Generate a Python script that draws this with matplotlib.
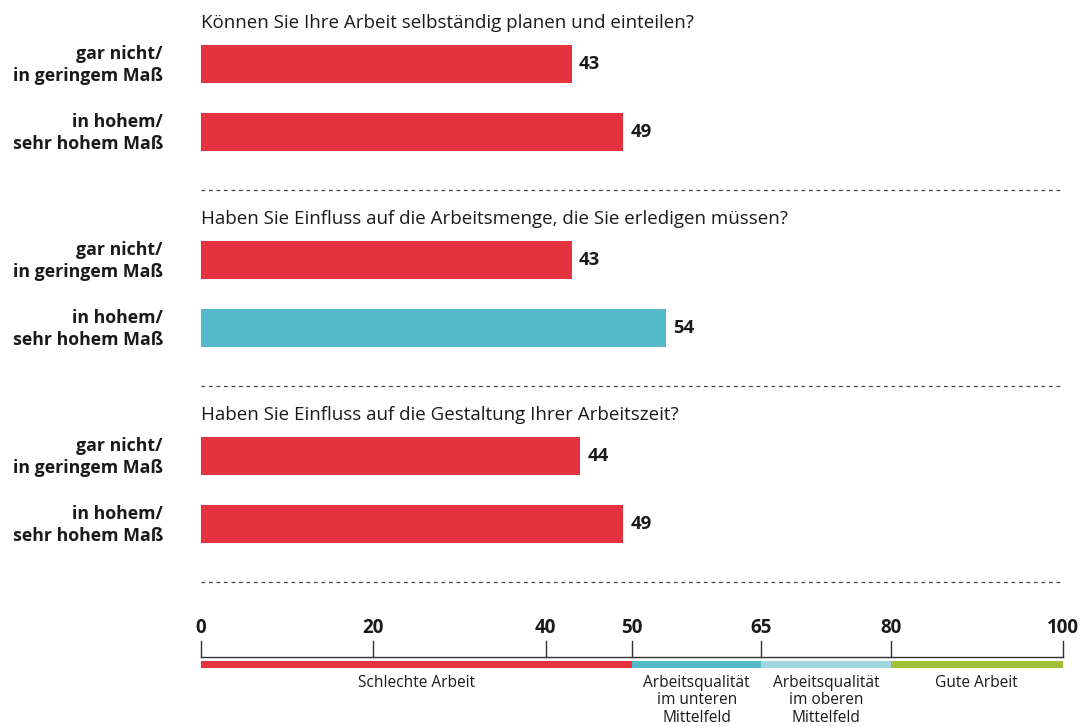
import matplotlib
matplotlib.use("Agg")
import matplotlib.pyplot as plt

# ---- data ----
questions = [
    "Können Sie Ihre Arbeit selbständig planen und einteilen?",
    "Haben Sie Einfluss auf die Arbeitsmenge, die Sie erledigen müssen?",
    "Haben Sie Einfluss auf die Gestaltung Ihrer Arbeitszeit?",
]
row_labels = ["gar nicht/\nin geringem Maß", "in hohem/\nsehr hohem Maß"]
values = [[43, 49], [43, 54], [44, 49]]
tick_values = [0, 20, 40, 50, 65, 80, 100]
band_edges = [0, 50, 65, 80, 100]
band_labels = ["Schlechte Arbeit", "Arbeitsqualität\nim unteren\nMittelfeld",
               "Arbeitsqualität\nim oberen\nMittelfeld", "Gute Arbeit"]

# ---- style ----
RED = "#E5323F"
TEAL = "#52BAC8"
LTEAL = "#A0D6DE"
GREEN = "#A2C037"
band_colors = [RED, TEAL, LTEAL, GREEN]

def bar_color(v):
    for i in range(len(band_edges) - 1):
        if band_edges[i] <= v < band_edges[i + 1]:
            return band_colors[i]
    return band_colors[-1]

plt.rcParams['font.family'] = ['Open Sans', 'DejaVu Sans']

W, H = 1083, 727
fig = plt.figure(figsize=(W / 100, H / 100), dpi=100)
ax = fig.add_axes([0, 0, 1, 1])
px = 8.62  # pixels per unit
x0 = 201
ax.set_xlim(-x0 / px, (W - x0) / px)
ax.set_ylim(H, 0)
ax.axis("off")

group_top = 64
group_step = 196
row_step = 68
bar_h = 38
TXT = "#1a1a1a"

for g, q in enumerate(questions):
    base = group_top + g * group_step
    ax.text(0, base - 41, q, fontsize=13.5, va="center", ha="left", color=TXT)
    for r, lab in enumerate(row_labels):
        yc = base + r * row_step
        v = values[g][r]
        ax.barh(yc, v, height=bar_h, left=0, color=bar_color(v))
        ax.text(-38 / px, yc + 1, lab, ha="right", va="center", fontsize=12.8,
                fontweight="bold", linespacing=1.3, color=TXT)
        ax.text(v + 7 / px, yc, str(v), ha="left", va="center", fontsize=13.3,
                fontweight="bold", color=TXT)
    ax.plot([0, 100], [base + 126, base + 126], ls=(0, (3, 3)), lw=0.9, color="#444444")

# axis
axis_y = 657
ax.plot([0, 100], [axis_y, axis_y], color="#333333", lw=1)
for t in tick_values:
    ax.plot([t, t], [axis_y - 16, axis_y], color="#333333", lw=1)
    ax.text(t, axis_y - 29, str(t), ha="center", va="center", fontsize=13.5,
            fontweight="bold", color=TXT)

# bands
for i in range(len(band_labels)):
    a, b = band_edges[i], band_edges[i + 1]
    ax.barh(664.5, b - a, left=a, height=7, color=band_colors[i])
    ax.text((a + b) / 2, 675, band_labels[i], ha="center", va="top", fontsize=11.2,
            linespacing=1.12, color=TXT)

fig.savefig("out.png", dpi=100)
